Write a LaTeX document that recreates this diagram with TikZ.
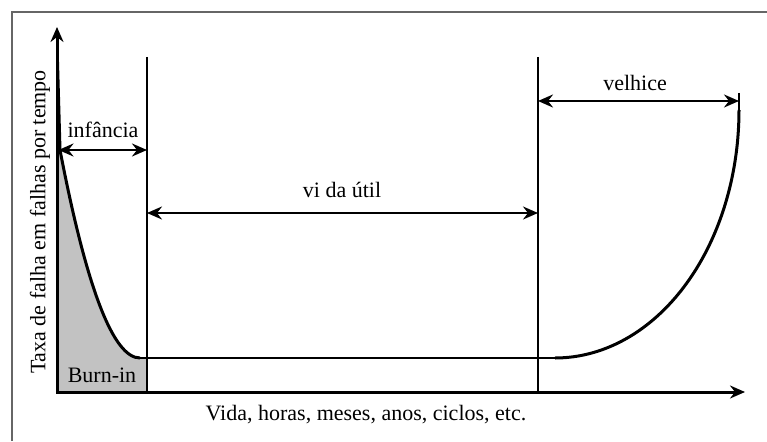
\documentclass[tikz,border=0pt]{standalone}
\usepackage{fontspec}
\setmainfont{Liberation Serif}
\usetikzlibrary{arrows.meta}
\begin{document}
\begin{tikzpicture}[x=1pt,y=-1pt,
  lbl/.style={font=\fontsize{22}{24}\selectfont, inner sep=0pt},
  tip/.tip={Stealth[length=15pt,width=13pt,inset=5pt]},
  axisline/.style={line width=3pt, tip-tip, line join=miter},
  divider/.style={line width=2.4pt},
  dimarrow/.style={line width=2.4pt, tip-tip},
  curve/.style={line width=3pt},
  flatline/.style={line width=1.7pt},
  frameline/.style={line width=1.4pt, draw=black!60},
  shade/.style={fill=black!24}]
\useasboundingbox (0,0) rectangle (767,441);
% frame (top and left only)
\coordinate (FL) at (12,441);
\coordinate (FC) at (12,12);
\coordinate (FR) at (767,12);
\draw[frameline] (FL) -- (FC) -- (FR);
% key points
\coordinate (O) at (57,392);
\coordinate (Ytip) at (57,27);
\coordinate (Xtip) at (745,392);
\coordinate (A1top) at (147,57);
\coordinate (A1bot) at (147,392);
\coordinate (A2top) at (538,57);
\coordinate (A2bot) at (538,392);
\coordinate (C0) at (57.5,62);
\coordinate (C1) at (60,150);
\coordinate (C2) at (140,358);
\coordinate (F1) at (555,358);
\coordinate (Tk1) at (739,93);
\coordinate (Tk2) at (739,117);
% burn-in shading
\path[shade] (C1) .. controls (86.67,288.67) and (113.33,358) .. (C2)
  -- (147,358) -- (A1bot) -- (O) -- (57,150) -- cycle;
% dividers
\draw[divider] (A1top) -- (A1bot);
\draw[divider] (A2top) -- (A2bot);
% curves
\draw[curve] (C0) -- (C1) .. controls (86.67,288.67) and (113.33,358) .. (C2);
\draw[flatline] (C2) -- (F1);
\draw[curve] plot[domain=90:0, samples=80] ({555+184*cos(\x)},{110+248*sin(\x)});
\draw[divider] (Tk1) -- (Tk2);
% axes
\draw[axisline] (Ytip) |- (Xtip);
% dimension arrows
\coordinate (I1) at (58.5,150);
\coordinate (I2) at (147,150);
\coordinate (V1) at (147,213);
\coordinate (V2) at (538,213);
\coordinate (W1) at (538,101);
\coordinate (W2) at (739,101);
\draw[dimarrow] (I1) -- (I2);
\draw[dimarrow] (V1) -- (V2);
\draw[dimarrow] (W1) -- (W2);
% labels
\node[lbl] (infancia) at (103,130) {infância};
\node[lbl] (vida) at (342,190) {vi da útil};
\node[lbl] (velhice) at (635,83) {velhice};
\node[lbl] (burnin) at (102,375) {Burn-in};
\node[lbl, rotate=90] (ylabel) at (40,222) {Taxa de falha em falhas por tempo};
\node[lbl] (xlabel) at (366,415) {Vida, horas, meses, anos, ciclos, etc.};
\end{tikzpicture}
\end{document}
